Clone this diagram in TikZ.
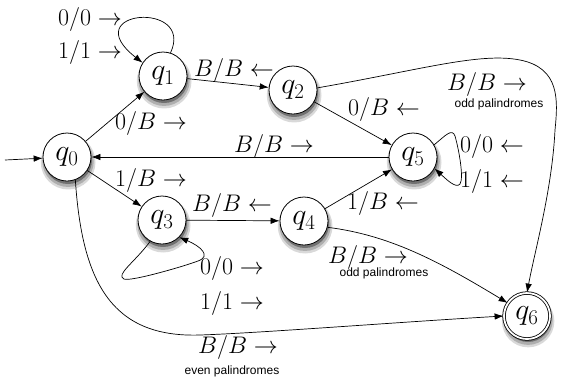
\RequirePackage{fix-cm}
\documentclass[tikz,border=0pt]{standalone}
\usepackage{fontspec}
\newfontfamily\helv{Liberation Sans}
\usetikzlibrary{arrows.meta,shadows}
\begin{document}
\begin{tikzpicture}[x=1pt,y=-1pt,
  st/.style={circle, draw, line width=0.8pt, fill=white, minimum size=48pt, inner sep=0pt,
    font=\fontsize{30}{32}\selectfont,
    drop shadow={shadow xshift=1pt, shadow yshift=-4.5pt, opacity=0.15, fill=black, shadow scale=1.14},
    drop shadow={shadow xshift=1pt, shadow yshift=-4pt, opacity=0.2, fill=black, shadow scale=1.07},
    drop shadow={shadow xshift=1pt, shadow yshift=-3pt, opacity=0.35, fill=black}},
  lab/.style={font=\fontsize{24}{26}\selectfont, inner sep=0pt},
  small/.style={font=\helv\fontsize{12}{13}\selectfont, inner sep=0pt},
  tr/.style={-{Latex[length=9pt,width=6.5pt]}, line width=0.7pt}]
\useasboundingbox (0,0) rectangle (561,376);
% states
\node[st] (q0) at (67,157) {$q_0$};
\node[st] (q1) at (163,76) {$q_1$};
\node[st] (q2) at (293,90) {$q_2$};
\node[st] (q3) at (162,220) {$q_3$};
\node[st] (q4) at (304,221) {$q_4$};
\node[st] (q5) at (413,157) {$q_5$};
\node[st, double, double distance=1.8pt, minimum size=46pt] (q6) at (527,316) {$q_6$};
% labels
\node[lab] (l11x) at (90,19) {$0/0\rightarrow$};
\node[lab] (l11y) at (90,52) {$1/1\rightarrow$};
\node[lab] (l12) at (234,70) {$B/B\leftarrow$};
\node[lab] (l01) at (151,123) {$0/B\rightarrow$};
\node[lab] (l50) at (274,146) {$B/B\rightarrow$};
\node[lab] (l03) at (151,180) {$1/B\rightarrow$};
\node[lab] (l25) at (384,109) {$0/B\leftarrow$};
\node[lab] (l26) at (487,84) {$B/B\rightarrow$};
\node[small] (l26s) at (499,104) {odd palindromes};
\node[lab] (l55x) at (492,146) {$0/0\leftarrow$};
\node[lab] (l55y) at (492,181) {$1/1\leftarrow$};
\node[lab] (l34) at (232,205) {$B/B\leftarrow$};
\node[lab] (l45) at (383,203) {$1/B\leftarrow$};
\node[lab] (l33x) at (232,268) {$0/0\rightarrow$};
\node[lab] (l33y) at (232,303) {$1/1\rightarrow$};
\node[lab] (l46) at (368,257) {$B/B\rightarrow$};
\node[small] (l46s) at (384,273) {odd palindromes};
\node[lab] (l06) at (238,347) {$B/B\rightarrow$};
\node[small] (l06s) at (232,371) {even palindromes};
% transitions
\coordinate (start) at (5,160);
\draw[tr] (start) -- (q0);
\draw[tr] (q0) -- (q1);
\draw[tr] (q1) -- (q2);
\draw[tr] (q2) -- (q5);
\draw[tr] (q5) -- (q0);
\draw[tr] (q0) -- (q3);
\draw[tr] (q3) -- (q4);
\draw[tr] (q4) -- (q5);
\draw[tr] (q1.72) .. controls (195,0) and (75,10) .. (q1.147);
\draw[tr] (q5.30) .. controls (446,135) and (452,128) .. (455,136)
  .. controls (459,150) and (464,178) .. (460,184)
  .. controls (456,189) and (446,179) .. (q5.-28);
\draw[tr] (q3.241) .. controls (135,262) and (115,275) .. (124,279)
  .. controls (130,282) and (185,266) .. (198,261)
  .. controls (212,256) and (200,246) .. (q3.315);
\draw[tr] (q2.5) .. controls (420,70) and (480,52) .. (520,60)
  .. controls (560,68) and (558,100) .. (555,130)
  .. controls (552,190) and (535,250) .. (q6.north);
\draw[tr] (q4.-15) .. controls (390,235) and (440,262) .. (q6.146);
\draw[tr] (q0.-70) .. controls (82,280) and (110,338) .. (200,335)
  .. controls (260,333) and (400,322) .. (q6.west);
\end{tikzpicture}
\end{document}
